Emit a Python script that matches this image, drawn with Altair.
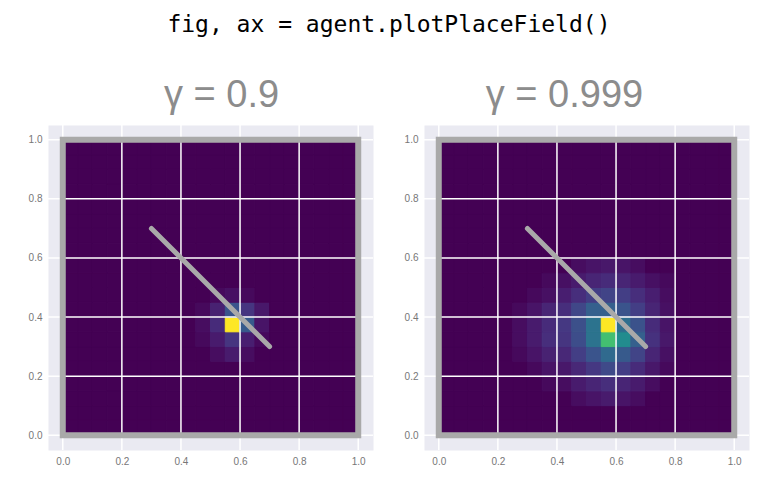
import altair as alt
import pandas as pd

N_BINS = 20
ARENA = [0.0, 1.0]
grid_ticks = [0.0, 0.2, 0.4, 0.6, 0.8, 1.0]
wall_x = [0.3, 0.7]
wall_y = [0.7, 0.3]

panel_titles = ["γ = 0.9", "γ = 0.999"]

# firing-rate patches (normalised), rows listed top -> bottom
# gamma = 0.9 : columns 9..13, rows 9..5
field_09_col0, field_09_row0 = 9, 9
field_09 = [
    [0.00, 0.02, 0.04, 0.02, 0.00],
    [0.02, 0.09, 0.26, 0.15, 0.06],
    [0.03, 0.12, 1.00, 0.28, 0.05],
    [0.02, 0.07, 0.15, 0.08, 0.02],
    [0.00, 0.03, 0.07, 0.03, 0.00],
]

# gamma = 0.999 : columns 5..15, rows 11..2
field_0999_col0, field_0999_row0 = 5, 11
field_0999 = [
    [0.00, 0.00, 0.00, 0.00, 0.03, 0.05, 0.06, 0.05, 0.03, 0.00, 0.00],
    [0.00, 0.00, 0.02, 0.04, 0.07, 0.10, 0.12, 0.10, 0.07, 0.04, 0.02],
    [0.00, 0.02, 0.04, 0.08, 0.13, 0.18, 0.20, 0.18, 0.13, 0.08, 0.03],
    [0.02, 0.05, 0.10, 0.13, 0.21, 0.30, 0.30, 0.26, 0.18, 0.10, 0.04],
    [0.03, 0.07, 0.12, 0.16, 0.24, 0.38, 1.00, 0.36, 0.25, 0.12, 0.05],
    [0.03, 0.07, 0.13, 0.15, 0.23, 0.38, 0.70, 0.48, 0.30, 0.14, 0.06],
    [0.02, 0.05, 0.09, 0.11, 0.18, 0.26, 0.34, 0.28, 0.20, 0.10, 0.04],
    [0.00, 0.02, 0.05, 0.06, 0.11, 0.16, 0.22, 0.18, 0.12, 0.06, 0.02],
    [0.00, 0.00, 0.02, 0.03, 0.07, 0.10, 0.13, 0.10, 0.07, 0.03, 0.00],
    [0.00, 0.00, 0.00, 0.00, 0.03, 0.05, 0.07, 0.05, 0.03, 0.00, 0.00],
]

GREY = "#a9a9a9"
SIZE = 325


def to_cells(patch, col0, row0):
    step = (ARENA[1] - ARENA[0]) / N_BINS
    rows = []
    for j in range(N_BINS):
        for i in range(N_BINS):
            r = row0 - j
            c = i - col0
            rate = 0.0
            if 0 <= r < len(patch) and 0 <= c < len(patch[0]):
                rate = patch[r][c]
            rows.append({"x0": i * step, "x1": (i + 1) * step,
                         "y0": j * step, "y1": (j + 1) * step,
                         "rate": rate})
    return pd.DataFrame(rows)


def place_field(cells, title, title_dx):
    sc = alt.Scale(domain=[-0.05, 1.05], nice=False, zero=False)
    ax = alt.Axis(values=grid_ticks, format=".1f", grid=False, ticks=False,
                  domain=False, labelFontSize=10, labelColor="#777777",
                  labelFont="Liberation Sans", labelPadding=6, title=None)
    cmap = alt.Scale(scheme="viridis", domain=[0, 1])

    heat = alt.Chart(cells).mark_rect(strokeWidth=1).encode(
        x=alt.X("x0:Q", scale=sc, axis=ax), x2="x1",
        y=alt.Y("y0:Q", scale=sc, axis=ax), y2="y1",
        color=alt.Color("rate:Q", legend=None, scale=cmap),
        stroke=alt.Stroke("rate:Q", legend=None, scale=cmap))

    g = pd.DataFrame({"g": grid_ticks})
    vgrid = alt.Chart(g).mark_rule(color="white", strokeWidth=1.5).encode(
        x=alt.X("g:Q", scale=sc, axis=ax))
    hgrid = alt.Chart(g).mark_rule(color="white", strokeWidth=1.5).encode(
        y=alt.Y("g:Q", scale=sc, axis=ax))

    box = pd.DataFrame({"a": [ARENA[0]], "b": [ARENA[1]]})
    border = alt.Chart(box).mark_rect(fillOpacity=0, stroke=GREY, strokeWidth=6).encode(
        x=alt.X("a:Q", scale=sc, axis=ax), x2="b",
        y=alt.Y("a:Q", scale=sc, axis=ax), y2="b")

    wall = alt.Chart(pd.DataFrame({"x": wall_x, "y": wall_y})).mark_line(
        color=GREY, strokeWidth=5, strokeCap="round").encode(
        x=alt.X("x:Q", scale=sc, axis=ax),
        y=alt.Y("y:Q", scale=sc, axis=ax))

    return alt.layer(heat, vgrid, hgrid, border, wall).properties(
        width=SIZE, height=SIZE,
        title=alt.TitleParams(title, fontSize=38, color="#8c8c8c",
                              font="Liberation Sans", fontWeight="normal",
                              anchor="middle", offset=9, dx=title_dx))


left = place_field(to_cells(field_09, field_09_col0, field_09_row0),
                   panel_titles[0], 11)
right = place_field(to_cells(field_0999, field_0999_col0, field_0999_row0),
                    panel_titles[1], -22)

chart = alt.hconcat(left, right, spacing=28).properties(
    title=alt.TitleParams("fig, ax = agent.plotPlaceField()",
                          font="DejaVu Sans Mono", fontSize=23,
                          fontWeight="normal", color="black",
                          anchor="middle", offset=40),
    padding={"left": 19, "top": 5, "right": 5, "bottom": 5},
).configure_view(fill="#eaeaf2", stroke="transparent")

chart.save("out.html", embed_options={"renderer": "svg", "actions": False})
